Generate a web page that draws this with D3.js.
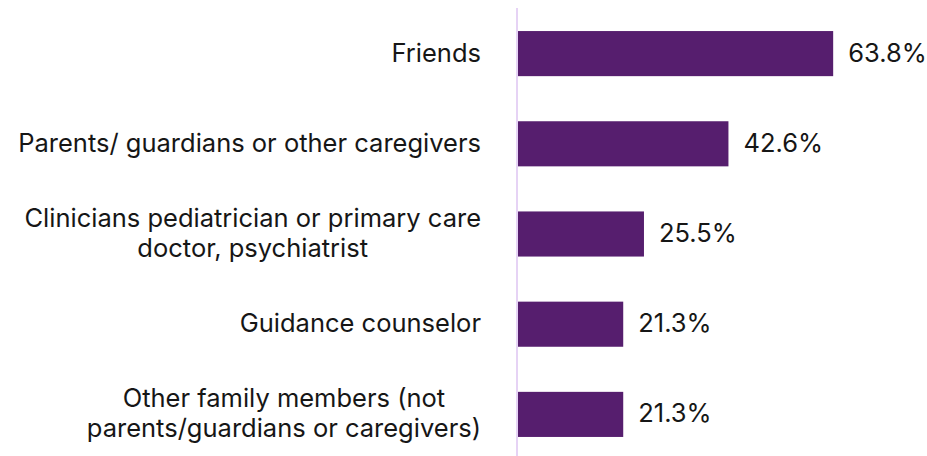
<!DOCTYPE html>
<html>
<head>
<meta charset="utf-8">
<script src="https://cdn.jsdelivr.net/npm/d3@7/dist/d3.min.js"></script>
<style>
  html, body { margin: 0; padding: 0; background: #ffffff; }
  svg { display: block; }
  text { font-family: Inter, "Open Sans", sans-serif; fill: #161616; }
</style>
</head>
<body>
<svg id="chart" width="927" height="456"></svg>
<script>
// Sources of support, share of respondents (%)
const categories = [
  ["Friends"],
  ["Parents/ guardians or other caregivers"],
  ["Clinicians pediatrician or primary care", "doctor, psychiatrist"],
  ["Guidance counselor"],
  ["Other family members (not", "parents/guardians or caregivers)"]
];
const values = [63.8, 42.6, 25.5, 21.3, 21.3];
const valueLabels = ["63.8%", "42.6%", "25.5%", "21.3%", "21.3%"];

const width = 927, height = 456;
const x0 = 518;
const labelRight = 481;
const fontSize = 25.5;
const lineGap = 30;

const svg = d3.select("#chart");

const keys = categories.map((c, i) => i);

const x = d3.scaleLinear().domain([0, 100]).range([x0, x0 + 494]);
const y = d3.scaleBand().domain(keys).range([8.5, 459.5])
  .paddingInner(0.5).paddingOuter(0.25);

// bars
svg.append("g").selectAll("rect")
  .data(values)
  .join("rect")
  .attr("x", x(0))
  .attr("y", (d, i) => y(i))
  .attr("width", d => x(d) - x(0))
  .attr("height", y.bandwidth())
  .attr("fill", "#561e6e");

// vertical axis line
const axis = d3.axisLeft(y).tickSize(0).tickFormat("");
const ag = svg.append("g").attr("transform", `translate(${x0 - 1},0)`).call(axis);
ag.select(".domain").attr("d", `M0,8V${height}`)
  .attr("stroke", "#e6d3f5").attr("stroke-width", 2);

// category labels
const lg = svg.append("g").attr("font-size", fontSize);
categories.forEach((lines, i) => {
  const cy = y(i) + y.bandwidth() / 2 - 1;
  if (lines.length === 1) {
    lg.append("text")
      .attr("x", labelRight)
      .attr("y", cy)
      .attr("dy", "0.35em")
      .attr("text-anchor", "end")
      .text(lines[0]);
  } else {
    const t = lg.append("g");
    const texts = lines.map((s, j) => t.append("text")
      .attr("y", cy + (j - (lines.length - 1) / 2) * lineGap)
      .attr("dy", "0.35em")
      .attr("text-anchor", "middle")
      .text(s));
    const w = d3.max(texts, n => n.node().getComputedTextLength());
    texts.forEach(n => n.attr("x", labelRight - w / 2));
  }
});

// value labels
svg.append("g").attr("font-size", fontSize).selectAll("text")
  .data(values)
  .join("text")
  .attr("x", d => x(d) + 15)
  .attr("y", (d, i) => y(i) + y.bandwidth() / 2 - 1)
  .attr("dy", "0.35em")
  .text((d, i) => valueLabels[i]);
</script>
</body>
</html>
